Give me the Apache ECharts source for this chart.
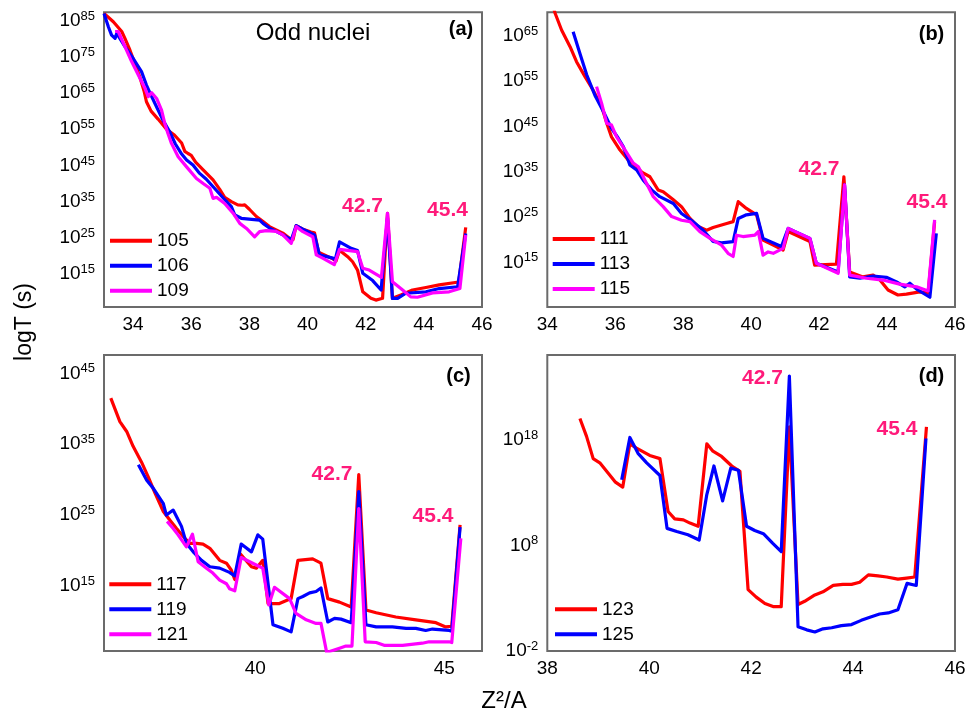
<!DOCTYPE html>
<html><head><meta charset="utf-8">
<script src="https://cdn.jsdelivr.net/npm/echarts@6/dist/echarts.min.js"></script>
<style>html,body{margin:0;padding:0;background:#fff}#c{width:969px;height:718px}</style>
</head><body><div id="c"></div>
<script>
const FONT = '"Liberation Sans", Arial, Helvetica, sans-serif';

// ---------- data: [Z^2/A, log10(T / s)] ----------
const s105 = [[33.0,87.0],[33.32,84.7],[33.61,82.0],[33.72,80.1],[33.89,76.9],[34.06,73.2],[34.23,69.5],[34.38,65.5],[34.46,62.6],[34.62,60.0],[34.86,57.8],[35.15,55.0],[35.42,53.4],[35.67,51.2],[35.78,48.9],[35.89,48.3],[36.0,47.8],[36.15,45.9],[36.41,43.8],[36.75,41.0],[36.98,38.4],[37.15,36.2],[37.38,35.0],[37.6,34.1],[37.75,34.0],[37.84,34.1],[38.0,32.9],[38.24,30.9],[38.47,29.5],[38.69,28.1],[38.92,27.2],[39.15,26.3],[39.38,24.9],[39.5,24.5],[39.61,28.4],[39.84,27.4],[40.12,26.6],[40.24,26.4],[40.38,21.0],[40.58,20.3],[40.87,19.2],[40.98,18.6],[41.1,21.6],[41.38,19.8],[41.55,18.4],[41.72,16.1],[41.9,10.1],[42.18,8.3],[42.35,7.8],[42.58,8.3],[42.75,31.8],[42.92,8.3],[43.21,9.2],[43.61,10.6],[44.07,11.3],[44.53,12.0],[45.2,12.8],[45.44,27.9]];
const s106 = [[33.0,87.0],[33.15,83.3],[33.26,81.0],[33.38,80.1],[33.44,81.5],[33.72,77.8],[34.0,74.6],[34.29,70.9],[34.46,67.2],[34.64,64.0],[34.86,60.3],[35.03,57.5],[35.26,54.3],[35.45,51.0],[35.65,48.4],[35.84,46.5],[36.06,45.1],[36.29,42.8],[36.52,41.2],[36.8,38.7],[37.1,36.0],[37.38,33.6],[37.5,31.3],[37.72,30.4],[38.35,29.9],[38.47,29.0],[38.69,27.7],[38.92,26.8],[39.15,25.8],[39.44,24.5],[39.61,28.4],[39.84,27.4],[40.24,25.8],[40.41,20.3],[40.87,19.4],[40.95,18.9],[41.1,23.9],[41.5,22.1],[41.72,21.5],[41.9,15.2],[42.24,13.2],[42.53,10.6],[42.75,30.5],[42.92,8.3],[43.1,8.3],[43.38,9.7],[44.07,10.1],[44.53,11.0],[45.16,11.5],[45.2,11.6],[45.44,26.2]];
const s109 = [[33.38,82.0],[33.49,82.0],[33.72,77.8],[33.95,73.7],[34.18,70.0],[34.41,66.3],[34.52,64.0],[34.64,65.1],[34.81,63.5],[34.98,60.3],[35.09,56.6],[35.2,53.8],[35.32,51.1],[35.55,47.4],[35.84,44.6],[36.18,41.4],[36.41,40.0],[36.64,38.7],[36.75,35.9],[36.87,36.2],[37.15,34.5],[37.44,31.8],[37.67,29.0],[37.9,27.6],[38.18,25.3],[38.35,26.7],[38.58,27.0],[38.92,26.8],[39.15,25.8],[39.44,23.5],[39.61,28.1],[39.84,26.7],[40.18,25.3],[40.3,20.3],[40.52,19.4],[40.92,17.6],[41.1,21.8],[41.72,21.2],[41.9,16.6],[42.12,16.1],[42.54,14.1],[42.75,31.8],[42.92,12.9],[43.27,10.6],[43.55,8.7],[43.78,8.6],[44.3,9.8],[44.87,10.1],[45.24,11.0],[45.44,25.8]];

const s111 = [[34.15,72.0],[34.23,70.0],[34.42,66.3],[34.67,62.6],[34.86,59.3],[35.11,56.0],[35.35,53.0],[35.6,49.4],[35.75,45.7],[35.89,42.7],[36.14,39.8],[36.38,37.6],[36.6,36.3],[36.78,34.9],[37.02,33.9],[37.26,31.0],[37.41,30.6],[37.71,28.8],[37.95,27.3],[38.2,24.7],[38.44,22.9],[38.69,22.1],[38.88,22.7],[39.28,23.6],[39.47,24.0],[39.62,28.4],[39.86,26.9],[40.16,25.5],[40.35,19.9],[40.65,18.8],[40.94,17.7],[41.09,21.8],[41.73,19.6],[41.87,14.4],[42.51,14.6],[42.73,33.9],[42.9,12.9],[43.29,11.8],[43.59,12.2],[43.79,11.1],[44.03,8.9],[44.32,7.8],[44.57,8.0],[44.96,8.5],[45.21,8.2],[45.4,24.0]];
const s113 = [[34.76,65.9],[34.96,61.1],[35.16,56.4],[35.4,51.9],[35.65,48.3],[35.89,44.6],[36.09,42.4],[36.24,40.5],[36.43,36.5],[36.63,35.4],[36.82,33.2],[37.07,31.0],[37.31,29.5],[37.71,28.0],[37.95,25.8],[38.29,24.0],[38.59,22.1],[38.88,19.6],[39.13,19.3],[39.47,19.6],[39.62,24.7],[39.86,25.5],[40.16,25.8],[40.35,20.3],[40.89,18.5],[41.09,22.5],[41.73,20.3],[41.92,14.8],[42.56,12.9],[42.75,32.1],[42.9,11.8],[43.2,11.5],[43.59,12.0],[43.98,11.7],[44.28,10.7],[44.52,9.6],[44.67,10.4],[44.87,9.1],[45.26,7.3],[45.45,21.4]];
const s115 = [[35.45,53.8],[35.6,50.1],[35.75,45.7],[35.89,45.3],[36.04,42.7],[36.29,39.8],[36.53,36.9],[36.68,36.1],[36.87,33.2],[37.12,29.5],[37.41,27.3],[37.66,25.1],[37.95,24.3],[38.2,24.0],[38.49,21.8],[38.79,20.3],[39.13,18.8],[39.32,17.0],[39.47,16.3],[39.57,21.0],[39.76,20.7],[40.11,21.0],[40.21,21.8],[40.35,16.6],[40.5,17.3],[40.65,17.0],[40.94,18.1],[41.09,22.5],[41.73,20.3],[41.92,14.8],[42.56,12.6],[42.75,32.1],[42.9,12.2],[43.39,11.5],[43.88,11.1],[44.37,10.2],[44.87,9.6],[45.21,8.7],[45.4,24.4]];

const s117 = [[36.18,41.5],[36.42,38.2],[36.6,36.8],[36.77,34.7],[36.99,32.5],[37.17,30.4],[37.35,28.1],[37.57,25.5],[37.74,24.3],[37.92,23.1],[38.14,21.7],[38.27,21.0],[38.45,21.0],[38.62,20.9],[38.8,20.3],[39.06,18.6],[39.24,18.2],[39.37,17.2],[39.46,15.9],[39.61,19.5],[39.9,17.7],[40.03,17.5],[40.2,18.6],[40.34,12.5],[40.64,12.5],[40.95,13.2],[41.13,18.6],[41.52,18.8],[41.74,18.2],[41.92,13.2],[42.23,12.7],[42.54,12.0],[42.74,30.7],[42.93,11.6],[43.2,11.2],[43.72,10.6],[44.25,10.2],[44.78,9.8],[45.04,9.2],[45.2,9.3],[45.42,23.6]];
const s119 = [[36.91,32.1],[37.13,29.9],[37.3,28.8],[37.57,26.6],[37.65,25.0],[37.83,25.7],[38.05,23.4],[38.18,21.0],[38.36,19.8],[38.58,18.6],[38.8,17.7],[39.06,17.5],[39.32,16.9],[39.46,16.4],[39.63,20.9],[39.9,19.8],[40.07,22.2],[40.2,21.6],[40.47,9.5],[40.73,9.0],[40.95,8.5],[41.13,13.2],[41.26,13.5],[41.44,14.0],[41.61,14.2],[41.74,14.7],[41.92,9.9],[42.1,10.4],[42.27,10.3],[42.54,9.8],[42.74,28.3],[42.93,9.5],[43.2,9.2],[43.63,9.2],[43.99,9.0],[44.25,9.0],[44.51,8.7],[44.69,8.9],[45.13,8.7],[45.2,8.6],[45.42,23.3]];
const s121 = [[37.67,24.1],[37.83,23.1],[37.96,22.2],[38.18,20.5],[38.34,22.3],[38.49,18.4],[38.71,17.5],[38.88,16.8],[39.06,15.8],[39.24,15.3],[39.32,14.6],[39.46,14.3],[39.63,19.0],[40.12,17.7],[40.2,17.5],[40.36,12.3],[40.51,14.8],[40.91,13.2],[41.08,11.1],[41.35,10.2],[41.61,9.7],[41.74,9.7],[41.89,5.6],[42.23,6.2],[42.4,6.5],[42.56,6.5],[42.74,25.9],[42.91,7.1],[43.2,7.0],[43.41,6.6],[43.9,6.6],[44.42,6.9],[44.6,7.1],[45.13,7.1],[45.2,7.0],[45.44,21.7]];

const s123 = [[38.64,20.0],[38.77,18.3],[38.9,16.2],[39.03,15.8],[39.2,14.8],[39.33,14.0],[39.48,13.5],[39.62,17.6],[39.75,17.2],[40.01,16.5],[40.21,16.2],[40.37,11.2],[40.5,10.5],[40.67,10.4],[40.8,10.1],[40.96,9.8],[41.13,17.6],[41.25,16.9],[41.42,16.4],[41.62,15.5],[41.78,15.0],[41.94,3.8],[42.1,3.1],[42.27,2.5],[42.43,2.2],[42.59,2.2],[42.75,19.2],[42.92,2.4],[43.05,2.7],[43.25,3.3],[43.41,3.6],[43.61,4.2],[43.8,4.3],[43.97,4.3],[44.13,4.5],[44.3,5.2],[44.49,5.1],[44.66,5.0],[44.88,4.8],[45.05,4.9],[45.21,5.0],[45.44,19.2]];
const s125 = [[39.46,14.2],[39.62,18.2],[39.78,16.7],[39.95,15.8],[40.21,14.6],[40.35,9.6],[40.54,9.3],[40.76,9.0],[40.98,8.5],[41.13,12.8],[41.27,15.5],[41.44,12.2],[41.6,15.3],[41.75,15.1],[41.91,9.8],[42.07,9.4],[42.24,9.1],[42.42,8.2],[42.59,7.4],[42.75,24.0],[42.92,0.3],[43.09,0.0],[43.25,-0.2],[43.41,0.1],[43.58,0.2],[43.77,0.4],[43.97,0.5],[44.16,0.9],[44.33,1.2],[44.52,1.5],[44.69,1.6],[44.88,1.9],[45.06,4.4],[45.24,4.2],[45.43,18.1]];

// tick labels
const xTicksA = [34,36,38,40,42,44,46];
const xTicksB = [34,36,38,40,42,44,46];
const xTicksC = [40,45];
const xTicksD = [38,40,42,44,46];
const yTicksA = [15,25,35,45,55,65,75,85];
const yTicksB = [15,25,35,45,55,65];
const yTicksC = [15,25,35,45];
const yTicksD = [-2,8,18];

const panelTags = ['(a)','(b)','(c)','(d)'];
const peakLabels = ['42.7','45.4'];
const title = 'Odd nuclei';

// ---------- layout / style ----------
const RED = '#ff0000', BLUE = '#0000ff', MAG = '#ff00ff', PINK = '#ff1a7a';
const panels = [
  {grid:{left:104, top:12.3, width:378, height:294.7}, x:[33,46], y:[5.9,87.3], xt:xTicksA, yt:yTicksA,
   series:[['105',s105,RED],['106',s106,BLUE],['109',s109,MAG]], legend:{left:110, top:230.7},
   tag:[461,29], pk:[[362.5,206],[447.5,210]]},
  {grid:{left:547.3, top:12.3, width:407.7, height:294.7}, x:[34,46], y:[5.15,70.2], xt:xTicksB, yt:yTicksB,
   series:[['111',s111,RED],['113',s113,BLUE],['115',s115,MAG]], legend:{left:552.7, top:229},
   tag:[931.5,34], pk:[[819,169],[927,202.5]]},
  {grid:{left:104, top:355, width:378, height:296}, x:[36,46], y:[5.8,47.6], xt:xTicksC, yt:yTicksC,
   series:[['117',s117,RED],['119',s119,BLUE],['121',s121,MAG]], legend:{left:109.3, top:574.3},
   tag:[458.5,376], pk:[[332,474],[433,516]]},
  {grid:{left:547.3, top:355, width:407.7, height:296}, x:[38,46], y:[-2,26], xt:xTicksD, yt:yTicksD,
   series:[['123',s123,RED],['125',s125,BLUE]], legend:{left:555, top:599.3},
   tag:[931.5,376], pk:[[762.5,378],[897,429.5]]}
];

const grids = [], xAxes = [], yAxes = [], series = [], legends = [], graphics = [];
panels.forEach((p, i) => {
  grids.push(Object.assign({show:true, borderColor:'#6b6b6b', borderWidth:2, backgroundColor:'transparent', containLabel:false}, p.grid));
  xAxes.push({type:'value', gridIndex:i, min:p.x[0], max:p.x[1],
    axisLine:{show:false}, axisTick:{show:false}, splitLine:{show:false},
    axisLabel:{customValues:p.xt, fontSize:19, fontFamily:FONT, color:'#000', margin:8, showMinLabel:true, showMaxLabel:true}});
  yAxes.push({type:'value', gridIndex:i, min:p.y[0], max:p.y[1],
    axisLine:{show:false}, axisTick:{show:false}, splitLine:{show:false},
    axisLabel:{customValues:p.yt, margin:9, showMinLabel:true, showMaxLabel:true,
      formatter: v => '{b|10}{s|' + v + '}',
      rich:{b:{fontSize:19, fontFamily:FONT, color:'#000', lineHeight:22},
            s:{fontSize:13, fontFamily:FONT, color:'#000', lineHeight:10, verticalAlign:'top'}}}});
  p.series.forEach(([name, data, color]) => {
    series.push({type:'line', name, xAxisIndex:i, yAxisIndex:i, data, showSymbol:false, symbol:'none',
      clip:true, animation:false, lineStyle:{color, width:3.2, join:'round'}, itemStyle:{color}});
  });
  legends.push({left:p.legend.left, top:p.legend.top, orient:'vertical', padding:0, itemGap:5,
    itemWidth:42, itemHeight:4, icon:'rect', data:p.series.map(s => s[0]),
    textStyle:{fontSize:19, fontFamily:FONT, color:'#000', lineHeight:20, padding:[0,0,0,0]},
    selectedMode:false});
  graphics.push({type:'text', x:p.tag[0], y:p.tag[1],
    style:{text:panelTags[i], font:'bold 20px ' + FONT, fill:'#000', align:'center', verticalAlign:'middle'}});
  p.pk.forEach((pos, k) => graphics.push({type:'text', x:pos[0], y:pos[1],
    style:{text:peakLabels[k], font:'bold 21px ' + FONT, fill:PINK, align:'center', verticalAlign:'middle'}}));
});
graphics.push({type:'text', x:313, y:33, style:{text:title, font:'24px ' + FONT, fill:'#000', align:'center', verticalAlign:'middle'}});
graphics.push({type:'text', x:25, y:322, rotation:Math.PI/2,
  style:{text:'logT (s)', font:'23px ' + FONT, fill:'#000', align:'center', verticalAlign:'middle'}});
graphics.push({type:'text', x:504, y:701,
  style:{text:'Z\u00B2/A', font:'24px ' + FONT, fill:'#000', align:'center', verticalAlign:'middle'}});

const chart = echarts.init(document.getElementById('c'), null, {renderer:'canvas'});
chart.setOption({animation:false, backgroundColor:'#fff', grid:grids, xAxis:xAxes, yAxis:yAxes,
  series, legend:legends, graphic:graphics});
</script></body></html>
